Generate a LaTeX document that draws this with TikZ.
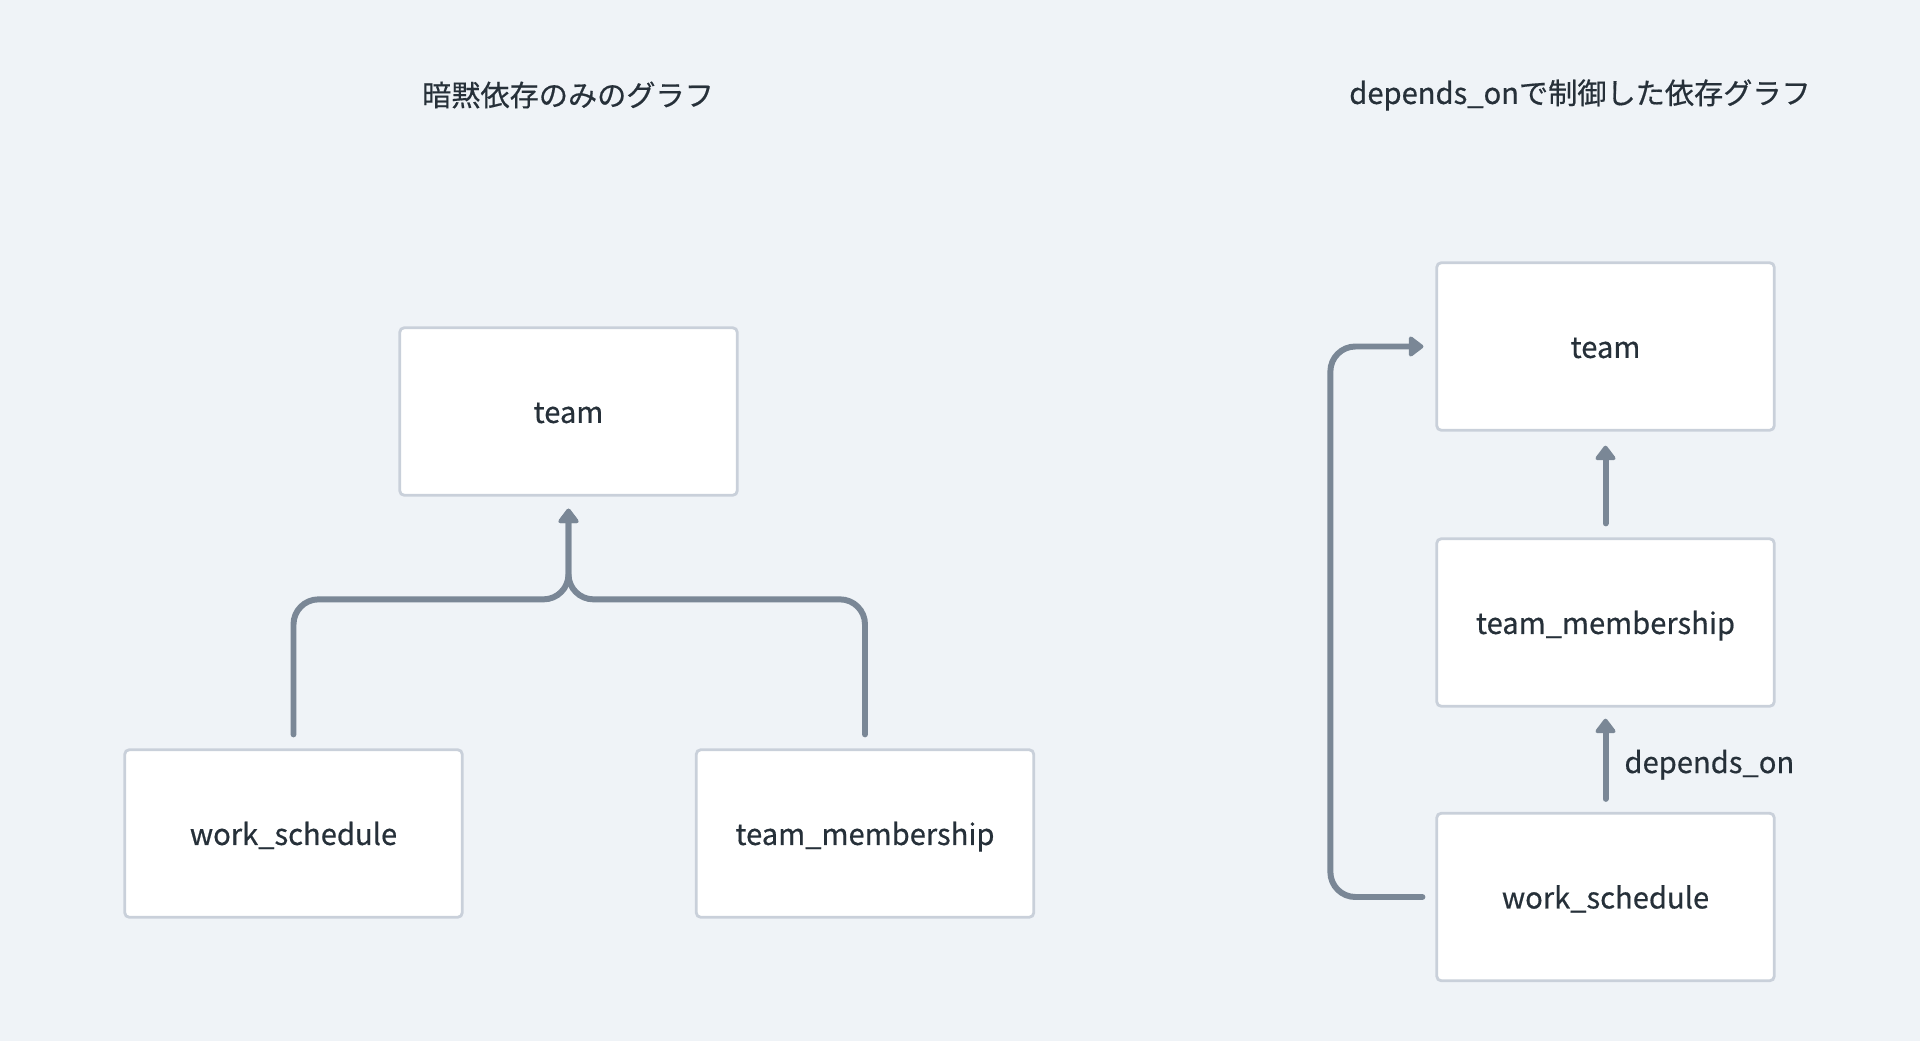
\documentclass[tikz,border=0pt]{standalone}
\usepackage{fontspec}
\setmainfont{Noto Sans CJK JP}[FakeBold=0.5]
\usetikzlibrary{arrows.meta,calc}
\definecolor{bgc}{HTML}{EFF3F7}
\definecolor{boxline}{HTML}{C9D0DA}
\definecolor{arr}{HTML}{7A8796}
\definecolor{txt}{HTML}{263039}
\begin{document}
\begin{tikzpicture}[x=0.02cm,y=-0.02cm,
  box/.style={draw=boxline,fill=white,line width=1.6pt,rounded corners=2.5pt,
    minimum width=6.75cm,minimum height=3.35cm,inner sep=0pt,text=txt,
    text height=14pt,text depth=1pt,
    font=\fontsize{16.6pt}{19pt}\selectfont},
  ttl/.style={text=txt,inner sep=0pt,font=\fontsize{16.6pt}{19pt}\selectfont},
  conn/.style={draw=arr,line width=3.4pt,line cap=round,rounded corners=0.5cm,
    -{Triangle[length=0.32cm,width=0.46cm,round]}},
  lbl/.style={text=txt,inner sep=0pt,font=\fontsize{16.6pt}{19pt}\selectfont}]
\fill[bgc] (0,0) rectangle (1920,1041);
\useasboundingbox (0,0) rectangle (1920,1041);
% titles
\node[ttl] (t1) at (568,95) {暗黙依存のみのグラフ};
\node[ttl] (t2) at (1580,95) {depends\_onで制御した依存グラフ};
% left graph
\node[box] (lteam) at (568.5,411.5) {team};
\node[box] (lws) at (293.5,833.5) {work\_schedule};
\node[box] (ltm) at (865,833.5) {team\_membership};
\draw[conn] ($(lws.north)+(0,-14)$) -- ++(0,-135) -| ($(lteam.south)+(0,12)$);
\draw[conn] ($(ltm.north)+(0,-14)$) -- ++(0,-135) -| ($(lteam.south)+(0,12)$);
% right graph
\node[box] (rteam) at (1605.5,346.5) {team};
\node[box] (rtm) at (1605.5,622.5) {team\_membership};
\node[box] (rws) at (1605.5,897) {work\_schedule};
\draw[conn] ($(rtm.north)+(0,-14)$) -- ($(rteam.south)+(0,14)$);
\draw[conn] ($(rws.north)+(0,-13)$) -- node[lbl,anchor=west,xshift=0.32cm,yshift=-0.12cm] (dep) {depends\_on} ($(rtm.south)+(0,11)$);
\draw[conn] ($(rws.west)+(-13,0)$) -- ++(-92,0) |- ($(rteam.west)+(-12,0)$);
\end{tikzpicture}
\end{document}
